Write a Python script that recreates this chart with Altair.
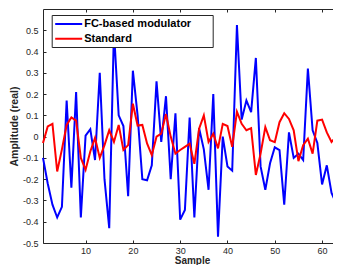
import altair as alt
import pandas as pd

samples = list(range(1, 65))

fc_based = [
    -0.10, -0.22, -0.32, -0.38, -0.33, 0.17, -0.24, 0.21, -0.38, 0.005,
    0.035, -0.11, 0.30, -0.20, -0.43, 0.50, 0.10, 0.05, -0.28, 0.31,
    0.10, -0.20, -0.205, -0.135, 0.26, -0.025, 0.19, -0.20, 0.11, -0.39,
    -0.345, 0.09, -0.38, 0.04, -0.06, -0.25, 0.20, -0.47, 0.00, -0.14,
    -0.16, 0.525, 0.08, 0.17, 0.115, 0.37, -0.14, -0.25, -0.125, -0.05,
    -0.063, -0.32, 0.02, -0.10, -0.08, -0.11, 0.32, 0.03, -0.03, -0.225,
    -0.135, -0.265, -0.315, 0.30,
]

standard = [
    -0.03, 0.048, 0.06, -0.164, -0.06, 0.055, 0.09, 0.075, -0.10, -0.156,
    -0.07, -0.006, -0.10, -0.04, 0.03, -0.025, 0.055, -0.063, -0.04, 0.155,
    0.052, 0.055, -0.032, -0.087, 0.00, 0.014, 0.106, 0.00, -0.08, -0.063,
    -0.048, -0.033, -0.128, 0.037, 0.10, -0.025, 0.014, -0.055, 0.06, 0.05,
    -0.048, 0.117, 0.06, 0.03, 0.04, -0.18, -0.08, 0.045, -0.017, -0.026,
    0.068, 0.11, 0.083, 0.03, -0.115, -0.04, -0.01, -0.08, 0.075, 0.08,
    0.02, -0.025, 0.00, 0.10,
]

series_names = ["FC-based modulator", "Standard"]
series_colors = ["#0000ff", "#ff0000"]
x_ticks = [10, 20, 30, 40, 50, 60]
y_ticks = [-0.5, -0.4, -0.3, -0.2, -0.1, 0.0, 0.1, 0.2, 0.3, 0.4, 0.5]
x_domain = [1, 64]
y_domain = [-0.5, 0.6]

W, H = 298, 234
FONT = "Liberation Sans"
AXC = "#262626"

df_fc = pd.DataFrame({"Sample": samples, "Amplitude": fc_based,
                      "Series": series_names[0]})
df_std = pd.DataFrame({"Sample": samples, "Amplitude": standard,
                       "Series": series_names[1]})

x_scale = alt.Scale(domain=x_domain, nice=False, zero=False)
y_scale = alt.Scale(domain=y_domain, nice=False, zero=False)
color_scale = alt.Scale(domain=series_names, range=series_colors)

y_label_expr = "datum.value == 0 ? '0' : toString(round(datum.value * 10) / 10)"

main_x_axis = alt.Axis(
    orient="bottom", values=x_ticks, title="Sample", ticks=False, domain=False,
    grid=False, labelFontSize=9, labelColor=AXC, labelPadding=3, labelFont=FONT,
    titleFont=FONT, titleFontSize=10, titleFontWeight="bold", titleColor=AXC,
    titlePadding=0, format="d",
)
main_y_axis = alt.Axis(
    orient="left", values=y_ticks, title="Amplitude (real)", ticks=False,
    domain=False, grid=False, labelFontSize=9, labelColor=AXC, labelPadding=5,
    labelFont=FONT, labelExpr=y_label_expr, titleFont=FONT, titleFontSize=10.5,
    titleFontWeight="bold", titleColor=AXC, titlePadding=2.5,
)

def tick_axis(orient, offset, values):
    return alt.Axis(orient=orient, offset=offset, values=values, labels=False,
                    title=None, domain=False, grid=False, ticks=True,
                    tickSize=3, tickColor=AXC, tickWidth=1)

# a hairline-high, invisible title on top only widens the legend box
legend = alt.Legend(
    orient="none", legendX=8.7, legendY=6,
    title="M" * 187, titleOrient="top", titleFontSize=1, titleFontWeight="bold",
    titleColor="rgba(255,255,255,0)", titlePadding=0, titleFont=FONT,
    titleLimit=1000,
    symbolType="stroke", symbolSize=729, symbolStrokeWidth=2,
    symbolOffset=0, labelFont=FONT, labelFontSize=11, labelFontWeight="bold",
    labelColor="black", fillColor="white", strokeColor=AXC, padding=2.5,
    rowPadding=2.7, labelOffset=1, clipHeight=11,
)

color_enc = alt.Color("Series:N", scale=color_scale, legend=legend)

layer_fc = alt.Chart(df_fc).mark_line(strokeWidth=2).encode(
    x=alt.X("Sample:Q", scale=x_scale, axis=main_x_axis),
    y=alt.Y("Amplitude:Q", scale=y_scale, axis=main_y_axis),
    color=color_enc,
)

layer_std = alt.Chart(df_std).mark_line(strokeWidth=2).encode(
    x=alt.X("Sample:Q", scale=x_scale, axis=tick_axis("top", -H, x_ticks)),
    y=alt.Y("Amplitude:Q", scale=y_scale, axis=tick_axis("right", -W, y_ticks)),
    color=color_enc,
)

layer_ticks = alt.Chart(df_std).mark_line(opacity=0).encode(
    x=alt.X("Sample:Q", scale=x_scale, axis=tick_axis("bottom", -H, x_ticks)),
    y=alt.Y("Amplitude:Q", scale=y_scale, axis=tick_axis("left", -W, y_ticks)),
)

chart = (
    alt.layer(layer_ticks, layer_fc, layer_std)
    .resolve_axis(x="independent", y="independent")
    .properties(
        width=W, height=H,
        autosize=alt.AutoSizeParams(type="none"),
        padding={"left": 35, "top": 1, "right": -8, "bottom": 22},
    )
    .configure_view(stroke=AXC, strokeWidth=1)
)

chart.save("out.html", embed_options={"renderer": "svg", "actions": False})
